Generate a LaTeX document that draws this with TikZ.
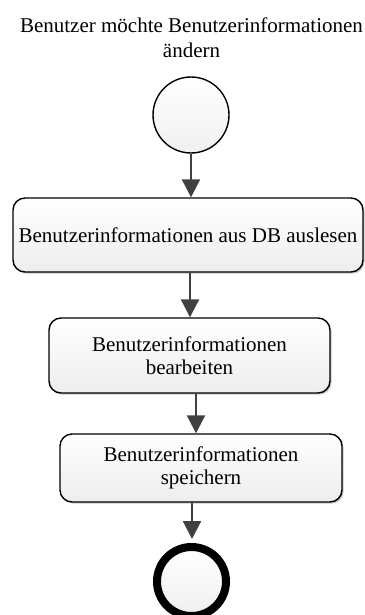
\documentclass[tikz,border=0pt]{standalone}
\usepackage{fontspec}
\setmainfont{Liberation Serif}
\usetikzlibrary{arrows.meta,shadows,calc}

\tikzset{
  activity/.style={draw=black, line width=1.4pt, rounded corners=12pt,
    top color=white, bottom color=gray!14, inner sep=0pt, align=center,
    font=\fontsize{21}{23.5}\selectfont,
    drop shadow={shadow xshift=1.6pt, shadow yshift=-1.6pt, fill=gray!55, opacity=0.8}},
  initnode/.style={circle, draw=black, line width=1.4pt, top color=white,
    bottom color=gray!12, minimum size=76pt, inner sep=0pt},
  finalnode/.style={circle, draw=black, line width=8pt, top color=white,
    bottom color=gray!12, minimum size=69pt, inner sep=0pt},
  flow/.style={draw=black!75, line width=2.2pt,
    -{Triangle[length=18pt,width=18pt]}},
  caption/.style={align=center, inner sep=0pt, font=\fontsize{21}{25}\selectfont}
}

\begin{document}
\begin{tikzpicture}[x=1pt,y=1pt]
  \useasboundingbox (0,0) rectangle (364,-615);

  % start event with its caption
  \node[caption] (title) at (191.5,-38) {Benutzer möchte Benutzerinformationen\\ändern};
  \node[initnode] (start) at (191,-115) {};

  % activities
  \node[activity, minimum width=350pt, minimum height=74pt] (b1) at (188,-235)
    {Benutzerinformationen aus DB auslesen};
  \node[activity, minimum width=281pt, minimum height=75pt] (b2) at (189.5,-355.5)
    {Benutzerinformationen\\bearbeiten};
  \node[activity, minimum width=282pt, minimum height=68pt] (b3) at (201,-468)
    {Benutzerinformationen\\speichern};

  % end event
  \node[finalnode] (stop) at (191.5,-581.5) {};

  % control flow
  \coordinate (x2) at (190,0);
  \coordinate (x3) at (196,0);
  \coordinate (x4) at (192,0);
  \draw[flow] (start) -- (start |- b1.north);
  \draw[flow] (b1.south -| x2) -- (b2.north -| x2);
  \draw[flow] (b2.south -| x3) -- (b3.north -| x3);
  \draw[flow] (b3.south -| x4) -- ($(stop.north -| x4)+(0,4)$);
\end{tikzpicture}
\end{document}
